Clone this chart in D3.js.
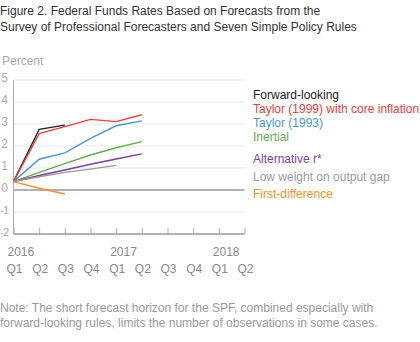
<!DOCTYPE html>
<html>
<head>
<meta charset="utf-8">
<script src="https://cdn.jsdelivr.net/npm/d3@7"></script>
<style>
  body { margin: 0; background: #fff; }
  svg text { font-family: "Liberation Sans", Arial, sans-serif; }
</style>
</head>
<body>
<svg width="420" height="342"></svg>
<script>
// quarters from 2016 Q1 to 2018 Q2
let quarters = ["Q1", "Q2", "Q3", "Q4", "Q1", "Q2", "Q3", "Q4", "Q1", "Q2"];
let years = ["2016", "2017", "2018"];
let yTicks = [5, 4, 3, 2, 1, 0, -1, -2];

let seriesNames = [
  "Forward-looking",
  "Taylor (1999) with core inflation",
  "Taylor (1993)",
  "Inertial",
  "Alternative r*",
  "Low weight on output gap",
  "First-difference"
];

let forwardLooking = [0.38, 2.76, 2.95];
let taylor1999 = [0.38, 2.56, 2.88, 3.21, 3.11, 3.42];
let taylor1993 = [0.38, 1.40, 1.69, 2.35, 2.92, 3.14];
let inertial = [0.38, 0.80, 1.20, 1.59, 1.92, 2.20];
let alternativeR = [0.38, 0.66, 0.91, 1.17, 1.41, 1.64];
let lowWeight = [0.38, 0.60, 0.80, 0.95, 1.12];
let firstDifference = [0.38, 0.08, -0.18];

let colors = ["#222222", "#e8413c", "#4b95d1", "#62ad4f", "#7d3f9c", "#9b9b9b", "#f5922a"];
let allSeries = [forwardLooking, taylor1999, taylor1993, inertial, alternativeR, lowWeight, firstDifference];

let svg = d3.select("svg");

// title
svg.append("text").attr("x", 0).attr("y", 15).attr("font-size", 12).attr("fill", "#333")
  .text("Figure 2. Federal Funds Rates Based on Forecasts from the");
svg.append("text").attr("x", 0).attr("y", 31).attr("font-size", 12).attr("fill", "#333")
  .text("Survey of Professional Forecasters and Seven Simple Policy Rules");

svg.append("text").attr("x", 2).attr("y", 65).attr("font-size", 12).attr("fill", "#aaa")
  .text("Percent");

let xScale = d3.scaleLinear().domain([0, 9]).range([13.5, 244.5]);
let yScale = d3.scaleLinear().domain([-2, 5]).range([234, 80]);

// gridlines
svg.append("g")
  .selectAll("line")
  .data(yTicks.filter(d => d !== 0 && d !== -2))
  .enter()
  .append("line")
  .attr("x1", xScale(0))
  .attr("x2", xScale(9))
  .attr("y1", d => yScale(d))
  .attr("y2", d => yScale(d))
  .attr("stroke", "#e8e8e8")
  .attr("stroke-width", 1.2);

// y labels (negatives squeezed so they fit the left edge)
svg.append("g")
  .selectAll("text")
  .data(yTicks)
  .enter()
  .append("text")
  .attr("x", d => d < 0 ? 0 : 8)
  .attr("y", d => yScale(d))
  .attr("dy", "0.2em")
  .attr("text-anchor", d => d < 0 ? "start" : "end")
  .attr("font-size", d => d < 0 ? 11 : 12)
  .attr("letter-spacing", d => d < 0 ? -0.6 : 0)
  .attr("fill", "#aaa")
  .text(d => d);

// zero line
svg.append("line")
  .attr("x1", xScale(0)).attr("x2", xScale(9))
  .attr("y1", yScale(0)).attr("y2", yScale(0))
  .attr("stroke", "#999").attr("stroke-width", 1.3);

// x axis with ticks pointing up
let xAxis = d3.axisTop(xScale)
  .tickValues(d3.range(10))
  .tickSize(6)
  .tickFormat("");

let xg = svg.append("g")
  .attr("transform", "translate(0," + yScale(-2) + ")")
  .call(xAxis);
xg.select(".domain").attr("stroke", "#999").attr("stroke-width", 1.3).attr("d", "M" + xScale(0) + ",0H" + xScale(9));
xg.selectAll(".tick line").attr("stroke", "#aaa");

// y axis line
svg.append("line")
  .attr("x1", xScale(0)).attr("x2", xScale(0))
  .attr("y1", yScale(5)).attr("y2", yScale(-2))
  .attr("stroke", "#aaa").attr("stroke-width", 1);

// quarter and year labels
svg.append("g")
  .selectAll("text")
  .data(quarters)
  .enter()
  .append("text")
  .attr("x", (d, i) => xScale(i) + 1)
  .attr("y", 273)
  .attr("text-anchor", "middle")
  .attr("font-size", 12)
  .attr("fill", "#888")
  .text(d => d);

svg.append("g")
  .selectAll("text")
  .data(years)
  .enter()
  .append("text")
  .attr("x", (d, i) => xScale(i * 4) - 6)
  .attr("y", 256)
  .attr("font-size", 12)
  .attr("fill", "#888")
  .text(d => d);

// lines
let line = d3.line()
  .x((d, i) => xScale(i))
  .y(d => yScale(d));

svg.append("g")
  .selectAll("path")
  .data(allSeries)
  .enter()
  .append("path")
  .attr("d", d => line(d))
  .attr("fill", "none")
  .attr("stroke", (d, i) => colors[i])
  .attr("stroke-width", 1.4);

// legend labels
let legendY = [99, 113, 127, 141, 163, 181, 198];
svg.append("g")
  .selectAll("text")
  .data(seriesNames)
  .enter()
  .append("text")
  .attr("x", 253)
  .attr("y", (d, i) => legendY[i])
  .attr("font-size", 12)
  .attr("fill", (d, i) => colors[i])
  .text(d => d);

// note
svg.append("text").attr("x", 0).attr("y", 312).attr("font-size", 12).attr("fill", "#999")
  .text("Note: The short forecast horizon for the SPF, combined especially with");
svg.append("text").attr("x", 0).attr("y", 327).attr("font-size", 12).attr("fill", "#999")
  .text("forward-looking rules, limits the number of observations in some cases.");
</script>
</body>
</html>
